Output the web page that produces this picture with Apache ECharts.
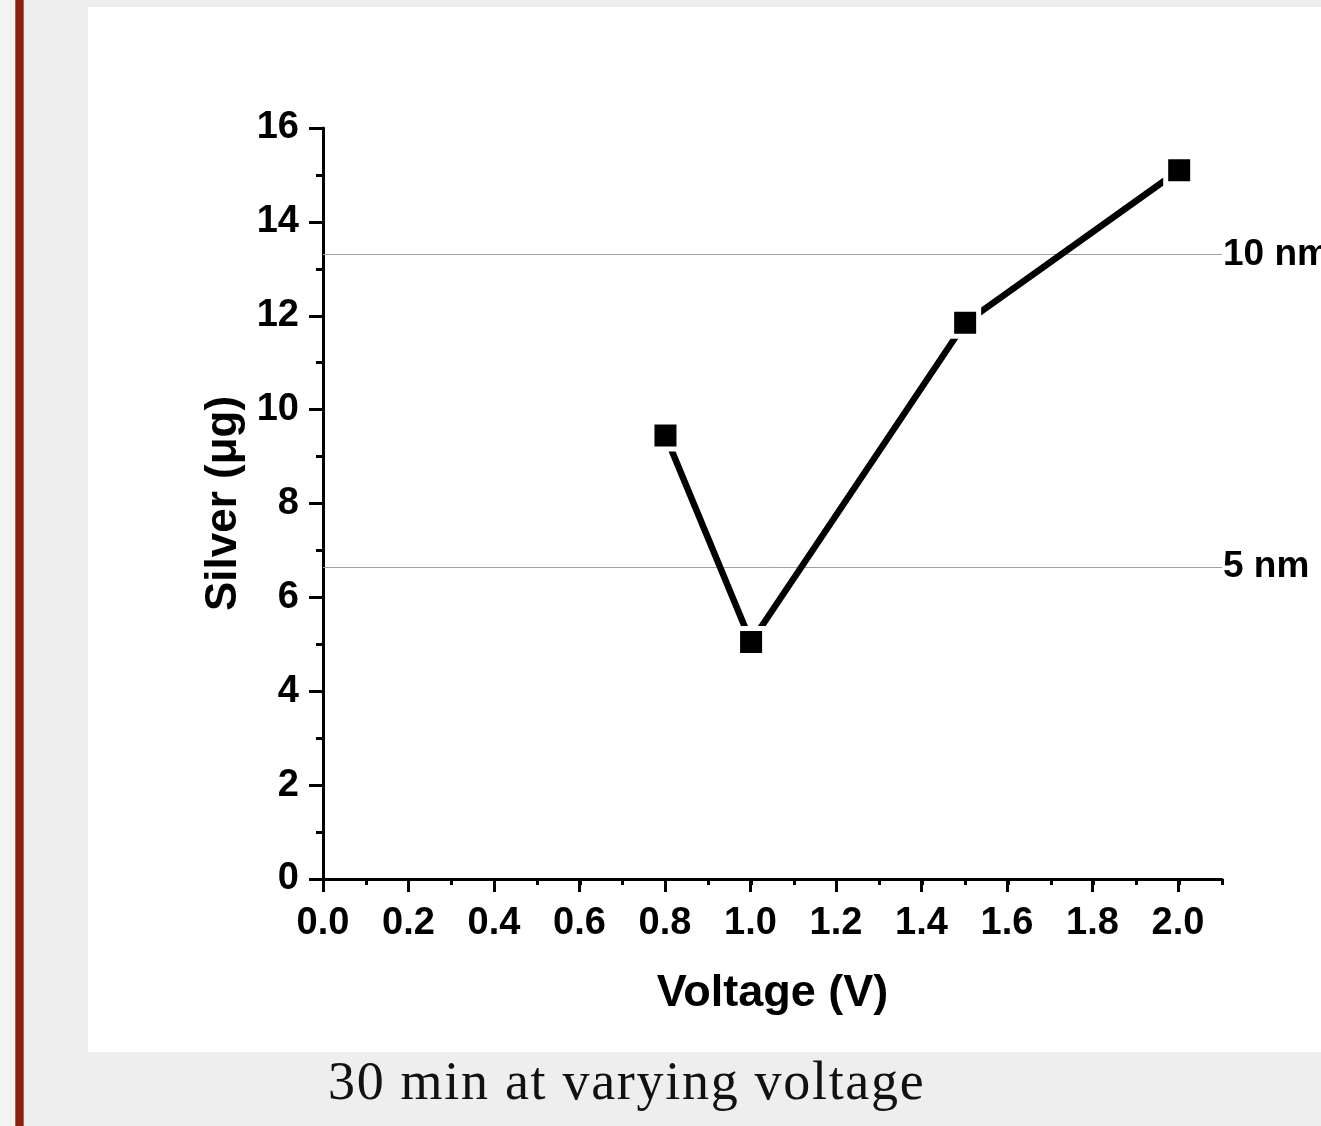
<!DOCTYPE html>
<html>
<head>
<meta charset="utf-8">
<script src="https://cdn.jsdelivr.net/npm/echarts@6/dist/echarts.min.js"></script>
<style>
  html, body { margin: 0; padding: 0; }
  body { width: 1321px; height: 1126px; background: #eeeeee; position: relative; overflow: hidden; }
  #strip { position: absolute; left: 0; top: 0; width: 15px; height: 1126px; background: #f3f3f3; }
  #bar { position: absolute; left: 15px; top: 0; width: 9px; height: 1126px; background: #8b1f0d;
         box-shadow: inset 1px 0 0 #b0604f, inset -1px 0 0 #b0604f; }
  #panel { position: absolute; left: 88px; top: 7px; width: 1233px; height: 1045px; background: #ffffff; }
  #chart { width: 1233px; height: 1045px; }
  #caption { position: absolute; left: 328px; top: 1054px; font-family: Georgia, 'Liberation Serif', 'DejaVu Serif', serif;
             font-size: 54px; line-height: 54px; letter-spacing: 1.7px; color: #111; white-space: nowrap; }
</style>
</head>
<body>
<div id="strip"></div>
<div id="bar"></div>
<div id="panel"><div id="chart"></div></div>
<div id="caption">30 min at varying voltage</div>
<script>
// ---- data ----
const voltage = [0.8, 1.0, 1.5, 2.0];
const silver = [9.45, 5.05, 11.85, 15.1];
const refValues = [13.3, 6.65];
const refLabels = ['10 nm', '5 nm'];
const xTickLabels = ['0.0', '0.2', '0.4', '0.6', '0.8', '1.0', '1.2', '1.4', '1.6', '1.8', '2.0'];
const yTickLabels = ['0', '2', '4', '6', '8', '10', '12', '14', '16'];
const xTitle = 'Voltage (V)';
const yTitle = 'Silver (\u03bcg)';

const FONT = "'Liberation Sans', Arial, sans-serif";
const chart = echarts.init(document.getElementById('chart'), null, { renderer: 'canvas' });

const points = voltage.map((v, i) => [v, silver[i]]);
const refData = refValues.map((v, i) => ({ yAxis: v, name: refLabels[i] }));

chart.setOption({
  animation: false,
  backgroundColor: '#ffffff',
  grid: [
    { left: 235, right: 99, top: 121, bottom: 173 },
    { left: 235, right: 143, top: 121, bottom: 173 }
  ],
  xAxis: [
    {
      gridIndex: 0, type: 'value', min: 0, max: 2.1, interval: 0.1,
      axisLine: { show: true, onZero: false, lineStyle: { color: '#000', width: 3 } },
      axisTick: { show: true, inside: false, length: 6, lineStyle: { color: '#000', width: 3 } },
      axisLabel: { show: false },
      splitLine: { show: false },
      name: xTitle, nameLocation: 'middle', nameGap: 92,
      nameTextStyle: { color: '#000', fontFamily: FONT, fontWeight: 'bold', fontSize: 45 }
    },
    {
      gridIndex: 1, type: 'value', min: 0, max: 2.0, interval: 0.2,
      axisLine: { show: false, onZero: false },
      axisTick: { show: true, inside: false, length: 13, lineStyle: { color: '#000', width: 3 } },
      axisLabel: {
        show: true, margin: 26, color: '#000', fontFamily: FONT, fontWeight: 'bold', fontSize: 38,
        formatter: (v) => xTickLabels[Math.round(v / 0.2)]
      },
      splitLine: { show: false }
    }
  ],
  yAxis: [
    {
      gridIndex: 0, type: 'value', min: 0, max: 16, interval: 2,
      axisLine: { show: true, onZero: false, lineStyle: { color: '#000', width: 3 } },
      axisTick: { show: true, inside: false, length: 14, lineStyle: { color: '#000', width: 3 } },
      minorTick: { show: true, splitNumber: 2, length: 7, lineStyle: { color: '#000', width: 3 } },
      axisLabel: {
        show: true, margin: 24, color: '#000', fontFamily: FONT, fontWeight: 'bold', fontSize: 38,
        formatter: (v) => yTickLabels[Math.round(v / 2)]
      },
      splitLine: { show: false },
      name: yTitle, nameLocation: 'middle', nameGap: 66, nameRotate: 90,
      nameTextStyle: { color: '#000', fontFamily: FONT, fontWeight: 'bold', fontSize: 44 }
    },
    {
      gridIndex: 1, type: 'value', min: 0, max: 16, show: false
    }
  ],
  series: [
    {
      type: 'line',
      xAxisIndex: 0, yAxisIndex: 0,
      data: points,
      symbol: 'rect',
      symbolSize: 27,
      showAllSymbol: true,
      lineStyle: { color: '#000', width: 6.5, cap: 'round' },
      itemStyle: { color: '#000', borderColor: '#ffffff', borderWidth: 5 },
      z: 5,
      markLine: {
        silent: true,
        symbol: ['none', 'none'],
        lineStyle: { color: '#a0a0a0', width: 1, type: 'solid' },
        label: {
          show: true, position: 'end', distance: 1, formatter: '{b}',
          color: '#000', fontFamily: FONT, fontWeight: 'bold', fontSize: 37
        },
        data: refData
      }
    }
  ]
});
</script>
</body>
</html>
